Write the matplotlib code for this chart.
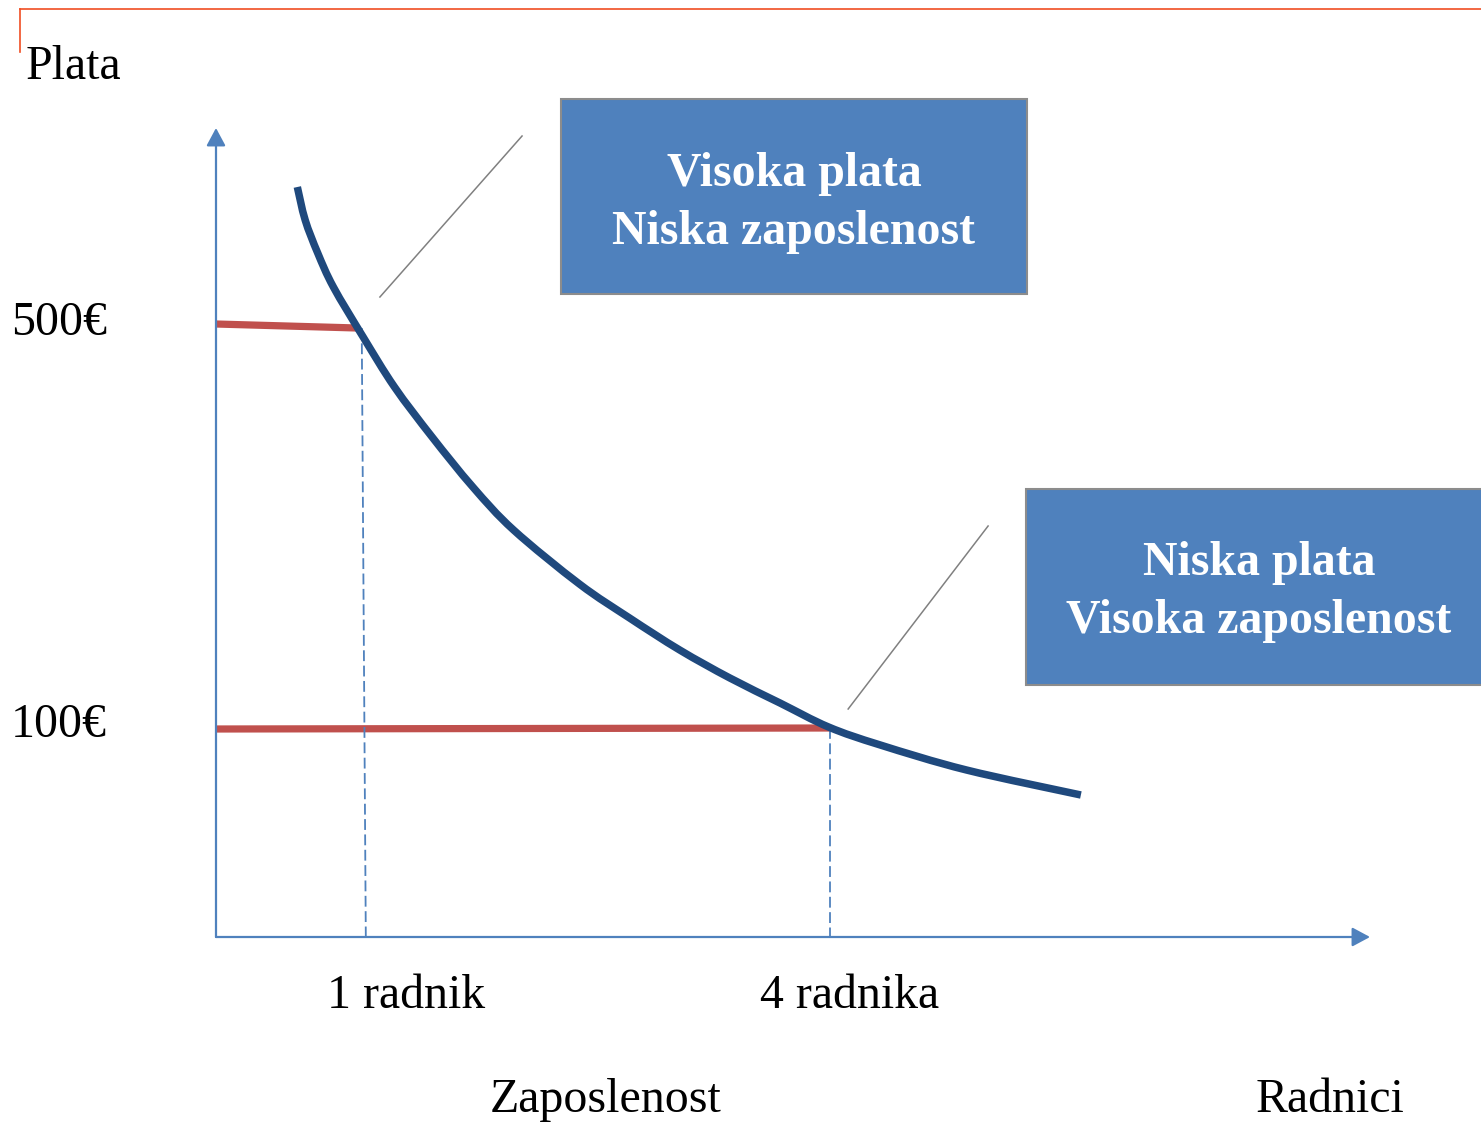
import matplotlib
matplotlib.use('Agg')
from matplotlib import pyplot as plt
from matplotlib.patches import Rectangle, PathPatch
from matplotlib.lines import Line2D
from matplotlib.path import Path

# labour demand curve (workers, wage in EUR)
workers = [0.60, 0.65, 0.73, 0.83, 1.02, 1.22, 1.46, 1.72, 1.98, 2.40, 2.72,
           3.04, 3.36, 3.68, 3.99, 4.32, 4.87, 5.60]
wage = [641, 608, 575, 541, 491, 441, 391, 341, 298, 244, 210,
        178, 150, 125, 101, 83, 58, 33]

# highlighted points on the curve
point_workers = [1, 4]
point_wage = [500, 100]
point_labels = ['1 radnik', '4 radnika']
wage_labels = ['500€', '100€']

box_texts = ['Visoka plata\nNiska zaposlenost', 'Niska plata\nVisoka zaposlenost']

AXIS_BLUE = '#4F81BD'
CURVE_BLUE = '#1F497D'
RED = '#C0504D'
SERIF = 'Liberation Serif'
FS = 34.5

W, H = 1481, 1124
fig = plt.figure(figsize=(W / 100, H / 100), dpi=100)


def fx(px):
    return px / W


def fy(py):
    return 1 - py / H


def smooth_path(xs, ys):
    # Catmull-Rom through the points, written as cubic bezier segments
    pts = list(zip(xs, ys))
    verts = [pts[0]]
    codes = [Path.MOVETO]
    for i in range(len(pts) - 1):
        p0 = pts[i - 1] if i > 0 else pts[i]
        p1, p2 = pts[i], pts[i + 1]
        p3 = pts[i + 2] if i + 2 < len(pts) else pts[i + 1]
        c1 = (p1[0] + (p2[0] - p0[0]) / 6, p1[1] + (p2[1] - p0[1]) / 6)
        c2 = (p2[0] - (p3[0] - p1[0]) / 6, p2[1] - (p3[1] - p1[1]) / 6)
        verts += [c1, c2, p2]
        codes += [Path.CURVE4] * 3
    return Path(verts, codes)


ax = fig.add_axes([fx(216), fy(937), fx(1370) - fx(216), fy(128) - fy(937)])
ax.set_xlim(0.081, 7.445)
ax.set_ylim(-109, 700)
ax.axis('off')

# axes with arrowheads
arrow = dict(arrowstyle='-|>,head_length=0.54,head_width=0.29', color=AXIS_BLUE,
             lw=1.6, mutation_scale=20, shrinkA=0, shrinkB=0)
ax.annotate('', xy=(0, 1), xytext=(0, 0), xycoords='axes fraction', arrowprops=arrow,
            annotation_clip=False)
ax.annotate('', xy=(1, 0), xytext=(0, 0), xycoords='axes fraction', arrowprops=arrow,
            annotation_clip=False)

# red wage lines and dashed drops
ax.plot([0.081, point_workers[0] - 0.02], [point_wage[0] + 4, point_wage[0]], color=RED,
        lw=5.2, solid_capstyle='butt')
ax.plot([0.081, point_workers[1]], [point_wage[1] - 1, point_wage[1]], color=RED, lw=5.2,
        solid_capstyle='butt')
ax.plot([point_workers[0] + 0.011, point_workers[0] + 0.037], [point_wage[0], -109],
        color=AXIS_BLUE, lw=1.3, dashes=(6, 2.5))
ax.plot([point_workers[1], point_workers[1]], [point_wage[1], -109],
        color=AXIS_BLUE, lw=1.3, dashes=(6, 2.5))

ax.add_patch(PathPatch(smooth_path(workers, wage), facecolor='none', edgecolor=CURVE_BLUE,
                       lw=5.4, capstyle='butt', zorder=3))

# leader lines to the boxes
ax.plot([1.127, 2.034], [531, 692], color='#808080', lw=1.1, clip_on=False)
ax.plot([4.115, 5.008], [119, 302], color='#808080', lw=1.1, clip_on=False)

# boxes
for x0, y0, x1, y1 in [(561, 99, 1027, 294), (1026, 489, 1490, 685)]:
    fig.patches.append(Rectangle((fx(x0), fy(y1)), fx(x1) - fx(x0), fy(y0) - fy(y1),
                                 transform=fig.transFigure, facecolor=AXIS_BLUE,
                                 edgecolor='#8C8C8C', lw=1.5))
cx = [794, 1259]
cy = [203, 592]
for x, y, txt in zip(cx, cy, box_texts):
    fig.text(fx(x), fy(y), txt, color='white', fontsize=FS, fontweight='bold', family=SERIF,
             ha='center', va='center', linespacing=1.39)

# top frame line
fig.add_artist(Line2D([fx(20), fx(W)], [fy(9), fy(9)], color='#F04E23', lw=1.2))
fig.add_artist(Line2D([fx(20), fx(20)], [fy(9), fy(52)], color='#F04E23', lw=1.2))

# labels
fig.text(fx(26), fy(79), 'Plata', fontsize=FS, family=SERIF, va='baseline')
for lbl, y in zip(wage_labels, [335, 737]):
    fig.text(fx(11), fy(y), lbl, fontsize=FS, family=SERIF, va='baseline')
for lbl, x in zip(point_labels, [406, 850]):
    fig.text(fx(x), fy(1008), lbl, fontsize=FS, family=SERIF, ha='center', va='baseline')
fig.text(fx(606), fy(1112), 'Zaposlenost', fontsize=FS, family=SERIF, ha='center', va='baseline')
fig.text(fx(1330), fy(1112), 'Radnici', fontsize=FS, family=SERIF, ha='center', va='baseline')

fig.savefig('out.png', dpi=100)
